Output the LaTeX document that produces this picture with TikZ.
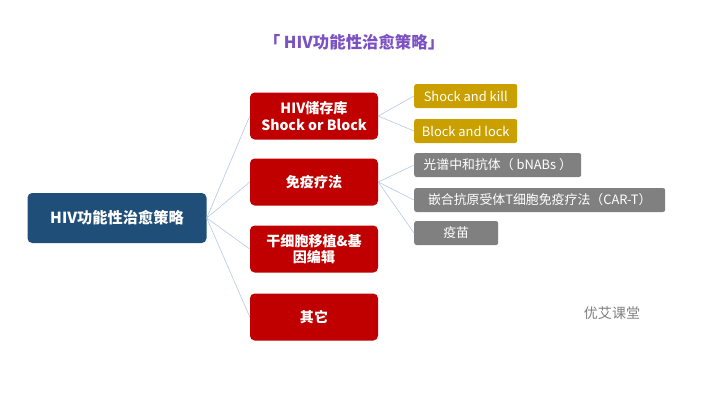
\documentclass[tikz,border=0pt]{standalone}
\usepackage{fontspec}
\setmainfont{Noto Sans CJK SC}
\usepackage{xcolor}
\definecolor{rootblue}{HTML}{1F4E79}
\definecolor{branchred}{HTML}{C00000}
\definecolor{leafgold}{HTML}{C9A000}
\definecolor{leafgray}{HTML}{808080}
\definecolor{titlepurple}{HTML}{7B52C2}
\definecolor{linkblue}{HTML}{B4C7E7}
\begin{document}
\begin{tikzpicture}[x=0.03cm,y=-0.03cm]
%style for root node
\tikzstyle{rootbox} = [rectangle, rounded corners=4pt, fill=rootblue, text=white, font=\bfseries\fontsize{13}{15}\selectfont, minimum width=179*0.03cm, minimum height=50*0.03cm]

%style for branch node
\tikzstyle{branchbox} = [rectangle, rounded corners=4pt, fill=branchred, text=white, font=\bfseries\fontsize{12}{14}\selectfont, align=center, minimum width=128*0.03cm, minimum height=47*0.03cm, inner sep=1pt]

%style for leaf nodes
\tikzstyle{goldleaf} = [rectangle, rounded corners=2pt, fill=leafgold, text=white, font=\fontsize{11}{13}\selectfont, anchor=west, minimum width=103*0.03cm, minimum height=24*0.03cm, inner sep=1pt]
\tikzstyle{grayleaf} = [rectangle, rounded corners=2pt, fill=leafgray, text=white, font=\fontsize{11}{13}\selectfont, anchor=west, minimum height=24*0.03cm, inner sep=1pt]

%style for links
\tikzstyle{link} = [draw=linkblue, line width=0.5pt]

\useasboundingbox (0,0) rectangle (709,412);

%place nodes
\node[text=titlepurple, font=\bfseries\fontsize{14}{16}\selectfont](title) at (354,42) {「 HIV功能性治愈策略」};
\node[rootbox](root) at (117,218) {HIV功能性治愈策略};
\node[branchbox](reservoir) at (314,116) {HIV储存库\\Shock or Block};
\node[branchbox](immune) at (314,182) {免疫疗法};
\node[branchbox](stemcell) at (314,249) {干细胞移植\&基\\因编辑};
\node[branchbox](other) at (314,317) {其它};
\node[goldleaf](kill) at (414,96) {Shock and kill};
\node[goldleaf](lock) at (414,131) {Block and lock};
\node[grayleaf, minimum width=167*0.03cm](bnabs) at (414,165) {光谱中和抗体（ bNABs ）};
\node[grayleaf, minimum width=251*0.03cm](cart) at (414,200) {嵌合抗原受体T细胞免疫疗法（CAR-T）};
\node[grayleaf, minimum width=84*0.03cm](vaccine) at (414,233) {疫苗};
\node[text=leafgray, font=\fontsize{12}{14}\selectfont](mark) at (612,313) {优艾课堂};

%connect nodes with lines
\draw[link] (root.east) -- (reservoir.west);
\draw[link] (root.east) -- (immune.west);
\draw[link] (root.east) -- (stemcell.west);
\draw[link] (root.east) -- (other.west);
\draw[link] (reservoir.east) -- (kill.west);
\draw[link] (reservoir.east) -- (lock.west);
\draw[link] (immune.east) -- (bnabs.west);
\draw[link] (immune.east) -- (cart.west);
\draw[link] (immune.east) -- (vaccine.west);
\end{tikzpicture}
\end{document}
